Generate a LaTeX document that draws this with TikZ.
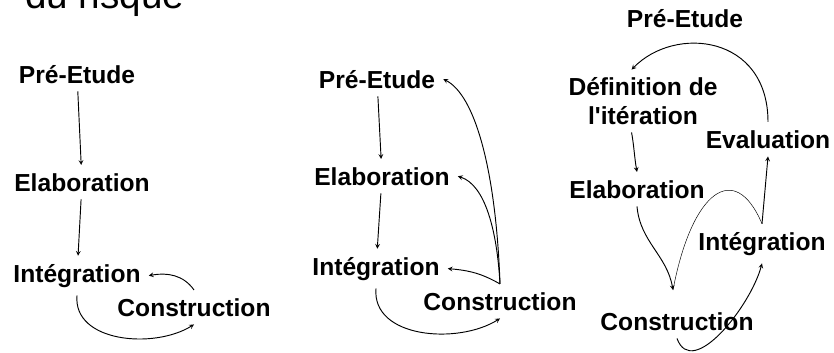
\documentclass[tikz,border=0pt]{standalone}
\usepackage{fontspec}
\setmainfont{Liberation Sans}
\usepackage{tikz}
\usetikzlibrary{positioning}

\tikzset{
    etape/.style = {font=\bfseries\fontsize{21}{24}\selectfont, inner sep=0pt, outer sep=7pt, anchor=base, align=center},
    fleche/.style = {->, >=stealth, line width=0.8pt},
}

\begin{document}
\begin{tikzpicture}[x=0.03cm, y=-0.03cm]
    \useasboundingbox (0,0) rectangle (834,352);
    \node [font=\fontsize{33}{36}\selectfont, inner sep=0pt, anchor=base west] (titre) at (25,8) {du risque};

    % cycle en cascade
    \node [etape] (pre1) at (77,83) {Pré-Etude};
    \node [etape] (ela1) at (82,191) {Elaboration};
    \node [etape] (int1) at (77,282) {Intégration};
    \node [etape] (con1) at (194,316) {Construction};
    \draw [fleche] (pre1) -- (ela1);
    \draw [fleche] (ela1) -- (int1);
    \draw [fleche] (con1.north) to [out=125, in=10] (int1.east);
    \draw [fleche] (int1.south) to [out=-95, in=-148] (con1.south);

    % cycle avec retours
    \node [etape] (pre2) at (377,88) {Pré-Etude};
    \node [etape] (ela2) at (382,185) {Elaboration};
    \node [etape] (int2) at (376,275) {Intégration};
    \node [etape] (con2) at (500,310) {Construction};
    \draw [fleche] (pre2) -- (ela2);
    \draw [fleche] (ela2) -- (int2);
    \draw [fleche] (int2.south) to [out=-95, in=-148] (con2.south);
    \draw [fleche] (con2.north) to [out=150, in=-5] (int2.east);
    \draw [fleche] (con2.north) .. controls (497,230) and (485,185) .. (ela2.east);
    \draw [fleche] (con2.north) .. controls (496,170) and (475,95) .. (pre2.east);

    % cycle iteratif
    \node [etape] (pre3) at (685,27) {Pré-Etude};
    \node [etape] (def3) at (643,124) {Définition de\\l\textquotesingle itération};
    \node [etape] (eva3) at (768,148) {Evaluation};
    \node [etape] (ela3) at (637,198) {Elaboration};
    \node [etape] (int3) at (762,250) {Intégration};
    \node [etape] (con3) at (677,330) {Construction};
    \coordinate (v3) at (673,290);
    \draw [fleche] (eva3.north) .. controls (768,35) and (675,25) .. (def3.110);
    \draw [fleche] (def3.250) to [out=-80, in=100] (ela3.north);
    \draw [fleche] (ela3.south) to [out=-85, in=100] (v3);
    \draw (v3) .. controls (692,190) and (735,160) .. (int3.north);
    \draw [fleche] (int3.north) -- (eva3.south);
    \draw [fleche] (con3.south) to [out=-70, in=-105] (int3.south);
\end{tikzpicture}
\end{document}
